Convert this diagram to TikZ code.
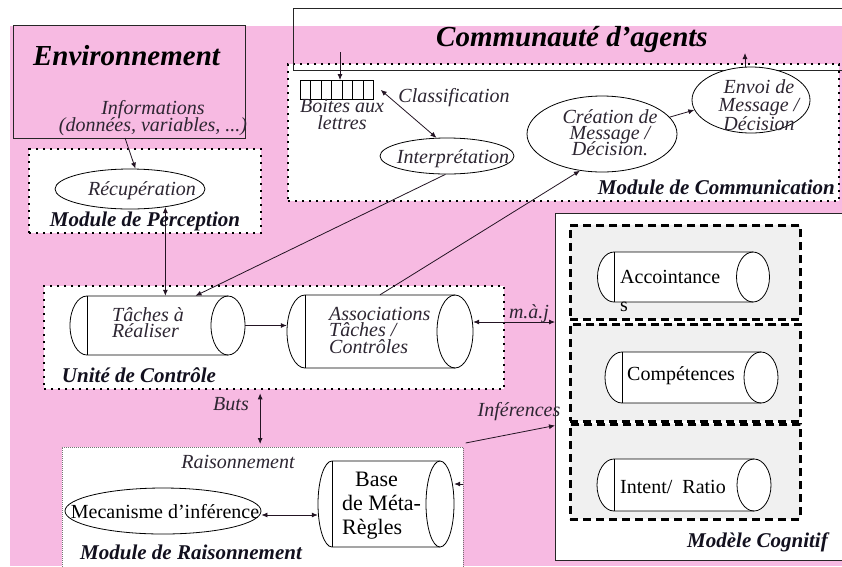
\documentclass[tikz,border=0pt]{standalone}
\usepackage{fontspec}
\setmainfont{Liberation Serif}
\usetikzlibrary{shapes.geometric,arrows.meta,calc}

\definecolor{pinkbg}{RGB}{247,186,226}
\definecolor{panelgrey}{RGB}{240,240,240}
\definecolor{inkit}{RGB}{45,38,50}
\definecolor{inkbold}{RGB}{18,16,30}
\definecolor{wire}{RGB}{35,20,35}

% text size and a fixed line pitch, lines allowed to touch
\newcommand\pitch[2]{\fontsize{#1}{#2}\selectfont\lineskiplimit=-100pt\relax}

\tikzset{
  frame/.style={draw=black!85, line width=1pt, inner sep=0, anchor=north west},
  dotbox/.style={draw=black, fill=white, line width=2.3pt, dash pattern=on 2.3pt off 4.7pt, inner sep=0, anchor=north west},
  dashpanel/.style={draw=black, fill=panelgrey, line width=2.6pt, dash pattern=on 8pt off 5pt, inner sep=0, anchor=north west},
  oval/.style={ellipse, draw=black, fill=white, line width=0.8pt, inner sep=0},
  cylbox/.style={inner sep=0, draw=none},
  cylline/.style={draw=black, line width=0.8pt},
  lbl/.style={inner sep=0, text=inkit, font={\itshape\pitch{20}{20}}},
  rlbl/.style={inner sep=0, text=black, font={\pitch{20}{20}}},
  modlbl/.style={inner sep=0, text=inkbold, font={\bfseries\itshape\pitch{21}{21}}},
  bigttl/.style={inner sep=0, text=black, font={\bfseries\itshape\pitch{29}{29}}},
  arr/.style={draw=wire, line width=0.8pt, -{Latex[length=6pt,width=5pt]}},
  darr/.style={draw=wire, line width=0.8pt, {Latex[length=6pt,width=5pt]}-{Latex[length=6pt,width=5pt]}},
}

% horizontal store: name, x of the back edge, x of the front face centre,
% centre y, half height, x radius of the end faces
\newcommand\cylnode[6]{%
  \node[cylbox, minimum width={#3-#2+2*#6}, minimum height={2*#5}] (#1) at ({(#2+#3)/2},#4) {};
  \fill[white] (#2,#4-#5) -- (#3,#4-#5)
    arc[start angle=-90, end angle=90, x radius=#6, y radius=#5]
    -- (#2,#4+#5) arc[start angle=90, end angle=270, x radius=#6, y radius=#5] -- cycle;
  \draw[cylline] (#3,#4-#5) -- (#2,#4-#5)
    arc[start angle=270, end angle=90, x radius=#6, y radius=#5] -- (#3,#4+#5);
  \draw[cylline] (#2,#4-#5) -- (#2,#4+#5);
  \draw[cylline] (#3,#4) ellipse[x radius=#6, y radius=#5];
}

\begin{document}
\begin{tikzpicture}[x=1pt,y=-1pt]
\useasboundingbox (0,0) rectangle (842,566);
\fill[white] (0,0) rectangle (842,566);
\fill[pinkbg] (10,26) rectangle (842,566);

% ---- frames and modules
\node[frame, fill=pinkbg, minimum width=232, minimum height=113] (env) at (13,25) {};
\node[dotbox, minimum width=551, minimum height=137] (comm) at (287,63) {};
\node[frame, minimum width=560, minimum height=62] (cmty) at (293,8) {};
\node[dotbox, minimum width=232, minimum height=84] (perc) at (28,148) {};
\node[dotbox, minimum width=460, minimum height=103] (unit) at (43,285) {};
\node[draw=black!55, fill=white, line width=0.6pt, dash pattern=on 1pt off 1pt,
      anchor=north west, inner sep=0, minimum width=401, minimum height=125] (rais) at (62,447) {};
\node[frame, fill=white, minimum width=295, minimum height=347] (cog) at (555,213) {};
\node[dashpanel, minimum width=230, minimum height=94] (pa) at (569,224) {};
\node[dashpanel, minimum width=230, minimum height=97] (pb) at (569,323) {};
\node[dashpanel, minimum width=230, minimum height=95] (pc) at (569,423) {};

% ---- mailboxes
\node[draw=black, line width=0.7pt, fill=white, anchor=north west, inner sep=0,
      minimum width=73, minimum height=19] (mbox) at (300,80) {};
\foreach \k in {1,...,6}
  \draw[line width=0.7pt] ($(mbox.north west)!\k/7!(mbox.north east)$) -- ($(mbox.south west)!\k/7!(mbox.south east)$);

% ---- processes
\node[oval, minimum width=134, minimum height=36] (interp) at (447,156) {};
\node[oval, minimum width=150, minimum height=76] (creat) at (602,134) {};
\node[oval, minimum width=118, minimum height=66] (envoi) at (751,100) {};
\node[oval, minimum width=150, minimum height=40] (recup) at (130,189) {};
\node[oval, minimum width=196, minimum height=46] (mech) at (163,511) {};

% ---- stores
\cylnode{tach}{87}{228}{325.5}{29.5}{17}
\cylnode{assoc}{305}{455}{331.5}{36.5}{18}
\cylnode{mbase}{332}{440}{504}{43}{14}
\cylnode{acc}{614}{753}{277}{25}{16.5}
\cylnode{comp}{622}{761}{377.5}{25.5}{17}
\cylnode{intent}{614}{754}{485}{26}{17}

% ---- connectors
\coordinate (mbin) at (340,52);
\draw[arr] (mbin) -- (mbin |- mbox.north);
\draw[darr] ([xshift=7pt]mbox.east) -- (interp.120);
\draw[arr] (interp.-95) -- ([xshift=38pt]tach.north);
\draw[arr] (assoc.north) -- (creat.239);
\draw[arr] (creat.14) -- (envoi.190);
\coordinate (envout) at (745,53);
\draw[arr] (envoi.north -| envout) -- (envout);
\coordinate (infout) at (125,138);
\draw[arr] (infout) -- (recup.75);
\draw[darr] (recup.-27) -- (recup.-27 |- tach.north);
\draw[arr] (tach.east) -- (tach.east -| assoc.west);
\draw[darr] ([yshift=9.5pt]assoc.east) -- ([yshift=9.5pt]assoc.east -| cog.west);
\draw[darr, shorten <=3pt, shorten >=3pt] ([xshift=-14pt]unit.south) -- ([xshift=-14pt]unit.south |- rais.north);
\draw[darr] ([yshift=-4pt]mech.east) -- ([yshift=-4pt]mech.east -| mbase.west);
\draw[arr] ([xshift=2pt,yshift=4pt]rais.north east) -- ([yshift=-38.5pt]cog.west);
\coordinate (tipA) at (463,484);
\draw[arr] (tipA) -- (tipA -| mbase.east);

% ---- texts (anchor base = baseline of the last line)
\node[bigttl, anchor=base] (tenv) at (126.5,65) {Environnement};
\node[lbl, font={\itshape\pitch{20}{17}}, align=center, anchor=base] (tinfo) at (153,131) {Informations\\(données, variables, ...)};
\node[bigttl, anchor=base] (tcmty) at (572,46) {Communauté d’agents};
\node[lbl, font={\itshape\pitch{20}{17}}, align=center, anchor=base] (tbal) at (342,129) {Boites aux\\lettres};
\node[lbl, anchor=base] (tclas) at (454,102) {Classification};
\node[lbl, anchor=base] (tinterp) at (453,163) {Interprétation};
\node[lbl, font={\itshape\pitch{20}{16}}, align=center, anchor=base] (tcreat) at (610,155) {Création de\\Message /\\Décision.};
\node[lbl, font={\itshape\pitch{20}{18.5}}, align=center, anchor=base] (tenvoi) at (759,130) {Envoi de\\Message /\\Décision};
\node[modlbl, anchor=base east] (tcomm) at (835,194) {Module de Communication};
\node[lbl, anchor=base] (trecup) at (142,195) {Récupération};
\node[modlbl, anchor=base] (tperc) at (145,226) {Module de Perception};
\node[lbl, font={\itshape\pitch{20}{16}}, align=left, anchor=base west] (ttach) at (112,337) {Tâches à\\Réaliser};
\node[lbl, font={\itshape\pitch{20}{16.5}}, align=left, anchor=base west] (tassoc) at (329,353) {Associations\\Tâches /\\Contrôles};
\node[lbl, anchor=base] (tmaj) at (529,318) {m.à.j};
\node[modlbl, anchor=base] (tunit) at (139,382) {Unité de Contrôle};
\node[lbl, anchor=base] (tbuts) at (231,410) {Buts};
\node[lbl, anchor=base] (tinf) at (519,416) {Inférences};
\node[lbl, anchor=base] (trais) at (238,468) {Raisonnement};
\node[rlbl, anchor=base] (tmech) at (165,518) {Mecanisme d’inférence};
\node[rlbl, font={\pitch{22}{24}}, align=left, anchor=base west] (tbase) at (342,534) {\hspace*{13pt}Base\\de Méta-\\Règles};
\node[modlbl, anchor=base west] (trmod) at (80,559) {Module de Raisonnement};
\node[rlbl, font={\pitch{20}{28}}, align=left, anchor=base west] (tacc) at (620,311) {Accointance\\s};
\node[rlbl, anchor=base west] (tcomp) at (627,380) {Compétences};
\node[rlbl, anchor=base west] (tint) at (620,493) {Intent/\ \ Ratio};
\node[modlbl, anchor=base east] (tcog) at (828,547) {Modèle Cognitif};
\end{tikzpicture}
\end{document}
